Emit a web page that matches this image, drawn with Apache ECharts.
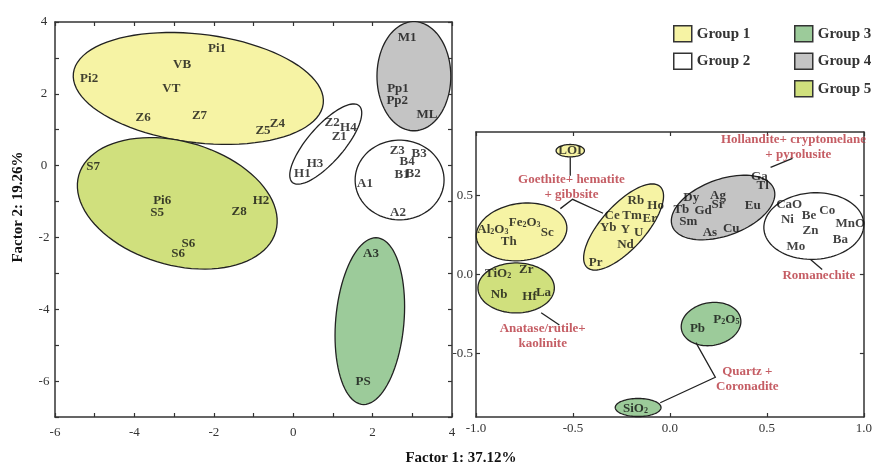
<!DOCTYPE html>
<html>
<head>
<meta charset="utf-8">
<script src="https://cdn.jsdelivr.net/npm/echarts@6/dist/echarts.min.js"></script>
<style>
  html, body { margin: 0; padding: 0; background: #fff; }
  #chart { width: 875px; height: 466px; }
</style>
</head>
<body>
<div id="chart"></div>
<script>
// groups shown in the legend
const groupNames = ['Group 1', 'Group 2', 'Group 3', 'Group 4', 'Group 5'];

// sample scores (Factor 1, Factor 2)
const sampleLabels = [
  ['Pi1', -1.92, 3.27], ['VB', -2.80, 2.82], ['Pi2', -5.14, 2.43], ['VT', -3.07, 2.15],
  ['Z6', -3.78, 1.34], ['Z7', -2.36, 1.40], ['Z4', -0.40, 1.17], ['Z5', -0.76, 0.98],
  ['Z2', 0.98, 1.20], ['H4', 1.39, 1.06], ['Z1', 1.16, 0.81], ['H3', 0.55, 0.06],
  ['H1', 0.23, -0.22], ['M1', 2.87, 3.56], ['Pp1', 2.64, 2.15], ['Pp2', 2.62, 1.82],
  ['ML', 3.37, 1.42], ['Z3', 2.62, 0.42], ['B3', 3.17, 0.34], ['B4', 2.87, 0.11],
  ['B1', 2.74, -0.25], ['B2', 3.02, -0.22], ['A1', 1.81, -0.50], ['A2', 2.64, -1.31],
  ['S7', -5.04, -0.03], ['Pi6', -3.30, -0.98], ['S5', -3.43, -1.31], ['H2', -0.81, -0.98],
  ['Z8', -1.36, -1.28], ['S6', -2.64, -2.18], ['S6', -2.90, -2.46], ['A3', 1.96, -2.46],
  ['PS', 1.76, -6.01]
];

// group envelopes on the score plot: group, cx, cy, rx, ry, tilt (deg)
const sampleRegions = [
  ['Group 1', -2.39, 2.15, 3.17, 1.51, -7],
  ['Group 5', -2.92, -1.05, 2.58, 1.72, -16],
  ['Group 2', 0.82, 0.60, 1.28, 0.50, 49],
  ['Group 4', 3.04, 2.49, 0.93, 1.52, 0],
  ['Group 2', 2.68, -0.40, 1.12, 1.11, 0],
  ['Group 3', 1.93, -4.33, 0.86, 2.33, -5]
];

// variable loadings (inset)
const loadingLabels = [
  ['LOI', -0.514, 0.782], ['Al{s|2}O{s|3}', -0.913, 0.285], ['Fe{s|2}O{s|3}', -0.749, 0.330],
  ['Sc', -0.632, 0.266], ['Th', -0.831, 0.209], ['Rb', -0.176, 0.465], ['Ho', -0.074, 0.438],
  ['Ce', -0.298, 0.370], ['Tm', -0.195, 0.370], ['Er', -0.104, 0.355], ['Yb', -0.318, 0.298],
  ['Y', -0.229, 0.285], ['U', -0.161, 0.266], ['Nd', -0.229, 0.190], ['Pr', -0.383, 0.076],
  ['Ga', 0.461, 0.615], ['Tl', 0.478, 0.560], ['Dy', 0.110, 0.488], ['Ag', 0.248, 0.495],
  ['Sr', 0.248, 0.439], ['Tb', 0.059, 0.412], ['Gd', 0.171, 0.401], ['Eu', 0.427, 0.438],
  ['Sm', 0.095, 0.332], ['As', 0.206, 0.266], ['Cu', 0.316, 0.290], ['CaO', 0.615, 0.444],
  ['Be', 0.717, 0.370], ['Co', 0.811, 0.401], ['Ni', 0.606, 0.344], ['MnO', 0.930, 0.323],
  ['Zn', 0.725, 0.275], ['Ba', 0.879, 0.222], ['Mo', 0.649, 0.179], ['TiO{s|2}', -0.886, 0.006],
  ['Zr', -0.741, 0.032], ['Nb', -0.881, -0.127], ['Hf', -0.724, -0.138], ['La', -0.652, -0.116],
  ['P{s|2}O{s|5}', 0.291, -0.285], ['Pb', 0.142, -0.344], ['SiO{s|2}', -0.178, -0.845]
];

// loading envelopes (inset): group, cx, cy, rx, ry, tilt (deg)
const loadingRegions = [
  ['Group 1', -0.514, 0.782, 0.073, 0.039, 0],
  ['Group 1', -0.765, 0.269, 0.235, 0.180, 8],
  ['Group 1', -0.239, 0.300, 0.281, 0.139, 48],
  ['Group 4', 0.274, 0.423, 0.279, 0.178, 20],
  ['Group 2', 0.742, 0.306, 0.258, 0.210, 3],
  ['Group 5', -0.793, -0.085, 0.197, 0.158, 0],
  ['Group 3', 0.212, -0.313, 0.155, 0.135, 10],
  ['Group 3', -0.164, -0.840, 0.118, 0.057, 0]
];

// mineral phase notes (inset)
const phaseNotes = [
  ['Goethite+ hematite\n+ gibbsite', -0.508, 0.550],
  ['Hollandite+ cryptomelane\n   + pyrolusite', 0.637, 0.802],
  ['Romanechite', 0.768, -0.006],
  ['Anatase/rutile+\nkaolinite', -0.656, -0.392],
  ['Quartz +\nCoronadite', 0.399, -0.663]
];

// leader lines from notes to envelopes
const noteLeaders = [
  [[-0.514, 0.740], [-0.514, 0.623]],
  [[-0.565, 0.416], [-0.502, 0.475], [-0.345, 0.387]],
  [[0.519, 0.677], [0.632, 0.734]],
  [[0.725, 0.095], [0.785, 0.032]],
  [[-0.664, -0.242], [-0.570, -0.319]],
  [[0.134, -0.430], [0.234, -0.649], [-0.050, -0.810]]
];

const groupFill = {
  'Group 1': '#f6f3a4',
  'Group 2': '#ffffff',
  'Group 3': '#9ccb9a',
  'Group 4': '#c4c4c4',
  'Group 5': '#d0e07d'
};

const serif = '"Liberation Serif", "DejaVu Serif", serif';
const ink = '#111';

function ellipseItem(params, api) {
  const c = api.coord([api.value(0), api.value(1)]);
  const s = api.size([1, 1]);
  const rx = api.value(2) * s[0];
  const ry = api.value(3) * s[1];
  const a = api.value(4) * Math.PI / 180;
  const pts = [];
  for (let i = 0; i < 90; i++) {
    const t = i / 90 * Math.PI * 2;
    const ex = rx * Math.cos(t), ey = ry * Math.sin(t);
    pts.push([c[0] + ex * Math.cos(a) - ey * Math.sin(a),
              c[1] - (ex * Math.sin(a) + ey * Math.cos(a))]);
  }
  return {
    type: 'polygon',
    shape: { points: pts },
    style: { fill: api.visual('color'), stroke: '#222', lineWidth: 1.3 }
  };
}

function regionSeries(list, axis) {
  const out = [];
  groupNames.forEach(g => {
    const rows = list.filter(r => r[0] === g).map(r => r.slice(1));
    if (!rows.length) return;
    out.push({
      name: g,
      type: 'custom',
      xAxisIndex: axis, yAxisIndex: axis,
      renderItem: ellipseItem,
      itemStyle: { color: groupFill[g] },
      encode: { x: 0, y: 1 },
      data: rows,
      z: 2,
      silent: true
    });
  });
  return out;
}

const subRich = {
  s: { fontSize: 8, fontWeight: 'bold', fontFamily: serif, color: ink, verticalAlign: 'bottom', padding: [4, 0, 0, 0] }
};

function textSeries(name, list, axis, color, extra) {
  return {
    name: name,
    type: 'scatter',
    xAxisIndex: axis, yAxisIndex: axis,
    symbolSize: 0,
    silent: true,
    z: 4,
    data: list.map(r => ({ name: r[0], value: [r[1], r[2]] })),
    label: Object.assign({
      show: true,
      position: 'inside',
      formatter: p => p.name,
      color: color,
      fontFamily: serif,
      fontWeight: 'bold',
      fontSize: 13,
      rich: subRich
    }, extra || {})
  };
}

const axisLine = { show: true, onZero: false, lineStyle: { color: '#333', width: 1.5 } };
const tickIn = { show: true, inside: true, length: 4, lineStyle: { color: '#333', width: 1.2 } };
const tickLabel = { color: '#333', fontFamily: serif, fontSize: 13 };

const legendItem = g => ({
  name: g,
  icon: 'rect',
  itemStyle: { color: groupFill[g], borderColor: '#333', borderWidth: 1.5 }
});
const legendBase = {
  orient: 'vertical',
  top: 20,
  itemWidth: 18,
  itemHeight: 16,
  itemGap: 10,
  selectedMode: false,
  textStyle: { fontFamily: serif, fontWeight: 'bold', fontSize: 15, color: '#333' }
};

const option = {
  animation: false,
  backgroundColor: '#fff',
  legend: [
    Object.assign({ left: 668, data: groupNames.slice(0, 2).map(legendItem) }, legendBase),
    Object.assign({ left: 789, data: groupNames.slice(2).map(legendItem) }, legendBase)
  ],
  grid: [
    { left: 55, top: 22, right: 423, bottom: 49 },
    { left: 476, top: 132, right: 8, bottom: 49 }
  ],
  xAxis: [
    { gridIndex: 0, type: 'value', min: -6, max: 4, interval: 1, axisLine: axisLine, axisTick: tickIn,
      splitLine: { show: false },
      axisLabel: Object.assign({ margin: 9, formatter: v => (v % 2 === 0 ? String(v) : '') }, tickLabel) },
    { gridIndex: 0, type: 'value', position: 'top', min: -6, max: 4, interval: 1, axisLine: axisLine,
      axisTick: tickIn, axisLabel: { show: false }, splitLine: { show: false } },
    { gridIndex: 1, type: 'value', min: -1, max: 1, interval: 0.5, axisLine: axisLine, axisTick: tickIn,
      splitLine: { show: false },
      axisLabel: Object.assign({ margin: 5, formatter: v => v.toFixed(1) }, tickLabel) },
    { gridIndex: 1, type: 'value', position: 'top', min: -1, max: 1, interval: 0.5, axisLine: axisLine,
      axisTick: tickIn, axisLabel: { show: false }, splitLine: { show: false } }
  ],
  yAxis: [
    { gridIndex: 0, type: 'value', min: -7, max: 4, interval: 1, axisLine: axisLine, axisTick: tickIn,
      splitLine: { show: false },
      axisLabel: Object.assign({ margin: 11, align: 'center', formatter: v => (v % 2 === 0 ? String(v) : '') }, tickLabel) },
    { gridIndex: 0, type: 'value', position: 'right', min: -7, max: 4, interval: 1, axisLine: axisLine,
      axisTick: tickIn, axisLabel: { show: false }, splitLine: { show: false } },
    { gridIndex: 1, type: 'value', min: -0.9, max: 0.9, axisLine: axisLine,
      axisTick: Object.assign({ customValues: [-0.5, 0, 0.5] }, tickIn),
      splitLine: { show: false },
      axisLabel: Object.assign({ margin: 3, customValues: [-0.5, 0, 0.5], formatter: v => v.toFixed(1) }, tickLabel) },
    { gridIndex: 1, type: 'value', position: 'right', min: -0.9, max: 0.9, axisLine: axisLine,
      axisTick: Object.assign({ customValues: [-0.5, 0, 0.5] }, tickIn),
      axisLabel: { show: false }, splitLine: { show: false } }
  ],
  graphic: [
    { type: 'text', x: 18, y: 207, rotation: Math.PI / 2,
      style: { text: 'Factor 2: 19.26%', textAlign: 'center', textVerticalAlign: 'middle',
               font: 'bold 15px ' + serif, fill: ink } },
    { type: 'text', x: 461, y: 458,
      style: { text: 'Factor 1: 37.12%', textAlign: 'center', textVerticalAlign: 'middle',
               font: 'bold 15px ' + serif, fill: ink } }
  ],
  series: [].concat(
    regionSeries(sampleRegions, 0),
    regionSeries(loadingRegions, 2),
    [
      {
        name: 'leaders',
        type: 'lines',
        coordinateSystem: 'cartesian2d',
        xAxisIndex: 2, yAxisIndex: 2,
        polyline: true,
        silent: true,
        z: 3,
        lineStyle: { color: '#222', width: 1.3, opacity: 1 },
        data: noteLeaders.map(c => ({ coords: c }))
      },
      textSeries('samples', sampleLabels, 0, ink),
      textSeries('loadings', loadingLabels, 2, ink),
      textSeries('notes', phaseNotes, 2, '#b7343d', { lineHeight: 15, align: 'center' })
    ]
  )
};

const chart = echarts.init(document.getElementById('chart'));
chart.setOption(option);
window.onresize = () => chart.resize();
</script>
</body>
</html>
